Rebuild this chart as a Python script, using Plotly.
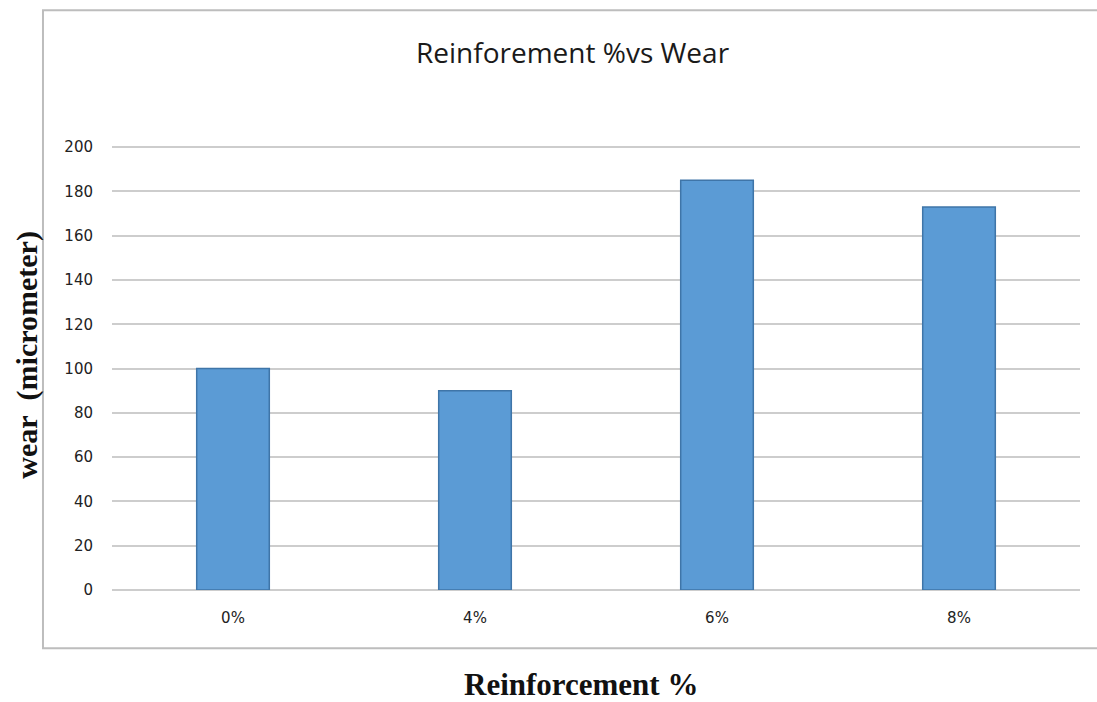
import plotly.graph_objects as go

# Wear measured for each reinforcement level
categories = ["0%", "4%", "6%", "8%"]
wear_um = [100, 90, 185, 173]
y_ticks = [0, 20, 40, 60, 80, 100, 120, 140, 160, 180, 200]

fig = go.Figure()
fig.add_trace(go.Bar(
    x=categories,
    y=wear_um,
    width=0.30,
    marker=dict(color="#5B9BD5", line=dict(color="#3F75A8", width=1.5)),
    showlegend=False,
))

fig.update_layout(
    width=1097,
    height=702,
    margin=dict(l=112, r=17, t=146, b=112),
    paper_bgcolor="white",
    plot_bgcolor="white",
    font=dict(family="DejaVu Sans", size=14, color="#222222"),
    bargap=0.7,
)

tick_font = dict(family="DejaVu Sans", size=15, color="#222222")

fig.update_xaxes(
    showgrid=False,
    showline=False,
    ticks="",
    ticklabelstandoff=17,
    tickfont=tick_font,
)
fig.update_yaxes(
    range=[0, 200.5],
    tickvals=y_ticks,
    showgrid=True,
    gridcolor="#CDCDCD",
    gridwidth=2,
    zeroline=True,
    zerolinecolor="#CDCDCD",
    zerolinewidth=2,
    showline=False,
    ticks="",
    ticklabelstandoff=18,
    tickfont=tick_font,
)

# outer chart frame
fig.add_shape(
    type="rect", xref="paper", yref="paper",
    x0=-0.0713, x1=1.03, y0=-0.131, y1=1.306,
    line=dict(color="#BDBDBD", width=2), fillcolor="rgba(0,0,0,0)",
    layer="below",
)

fig.add_annotation(
    text="Reinforement %vs Wear", xref="paper", yref="paper",
    x=0.476, y=1.212, showarrow=False, xanchor="center", yanchor="middle",
    font=dict(family="Open Sans", size=28, color="#1a1a1a"),
)
fig.add_annotation(
    text="<b>wear&nbsp;&nbsp;(micrometer)</b>", xref="paper", yref="paper",
    x=-0.0878, y=0.53, showarrow=False, textangle=-90,
    xanchor="center", yanchor="middle",
    font=dict(family="Liberation Serif", size=30, color="#111111"),
)
fig.add_annotation(
    text="<b>Reinforcement %</b>", xref="paper", yref="paper",
    x=0.485, y=-0.212, showarrow=False, xanchor="center", yanchor="middle",
    font=dict(family="Liberation Serif", size=31, color="#111111"),
)

fig.write_html("out.html")
